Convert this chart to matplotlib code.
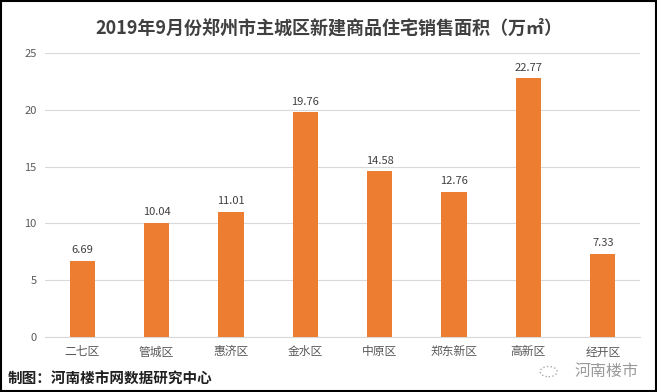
import matplotlib
matplotlib.use("Agg")
import matplotlib.pyplot as plt
from matplotlib.patches import Rectangle, Circle

plt.rcParams['font.family'] = ['Noto Sans CJK SC', 'DejaVu Sans']

categories = ['二七区', '管城区', '惠济区', '金水区', '中原区', '郑东新区', '高新区', '经开区']
values = [6.69, 10.04, 11.01, 19.76, 14.58, 12.76, 22.77, 7.33]
yticks = [0, 5, 10, 15, 20, 25]
title = '2019年9月份郑州市主城区新建商品住宅销售面积（万㎡）'
footer = '制图：河南楼市网数据研究中心'
watermark = '河南楼市'

fig = plt.figure(figsize=(6.57, 3.92), dpi=100)
ax = fig.add_axes([0.0685, 0.140, 0.9055, 0.725])

x = list(range(len(categories)))
bars = ax.bar(x, values, width=0.34, color='#ED7D31', zorder=3)
for xi, v in zip(x, values):
    ax.text(xi, v + 0.5, f'{v:.2f}', ha='center', va='bottom', fontsize=8, color='#404040')

ax.set_xlim(-0.5, len(categories) - 0.5)
ax.set_ylim(0, 25)
ax.set_yticks(yticks)
ax.set_yticklabels([str(t) for t in yticks], fontsize=8, color='#595959')
ax.set_xticks(x)
ax.set_xticklabels(categories, fontsize=8.5, color='#595959')
ax.tick_params(axis='both', length=0, pad=6)
ax.grid(axis='y', color='#D9D9D9', linewidth=0.8, zorder=0)
for s in ['top', 'right', 'left']:
    ax.spines[s].set_visible(False)
ax.spines['bottom'].set_color('#D9D9D9')

fig.text(0.5, 0.929, title, ha='center', va='center', fontsize=13, fontweight='bold', color='#404040')
fig.text(0.012, 0.033, footer, ha='left', va='center', fontsize=10.5, fontweight='bold', color='#202020')
fig.text(0.972, 0.052, watermark, ha='right', va='center', fontsize=11.5, color='#9A9A9A')
fig.add_artist(Circle((0.835, 0.052), 0.013, transform=fig.transFigure, fill=False,
                      edgecolor='#AAAAAA', linewidth=1.0, linestyle=':'))

fig.add_artist(Rectangle((0.002, 0.002), 0.996, 0.996, transform=fig.transFigure,
                         fill=False, edgecolor='black', linewidth=1.5))

fig.savefig('out.png', dpi=100)
